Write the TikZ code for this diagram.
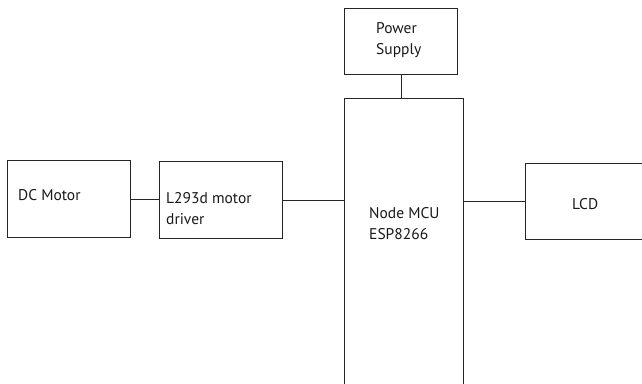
\documentclass[tikz,border=0pt]{standalone}
\usepackage{fontspec}
\setmainfont{PT Sans}
\begin{document}
\begin{tikzpicture}[x=1pt,y=-1pt,
  blk/.style={draw=black!85,line width=1.1pt,inner sep=0pt,anchor=north west},
  txt/.style={inner sep=0pt,anchor=base west,font=\fontsize{15.5}{21.5}\selectfont,text=black!90},
  wire/.style={draw=black!85,line width=1.1pt}]
\useasboundingbox (0,0) rectangle (642,383);
\fill[white] (0,0) rectangle (642,383);
\node[blk,minimum width=123pt,minimum height=77pt] (dc) at (7,160) {};
\node[blk,minimum width=123pt,minimum height=77pt] (drv) at (159,161) {};
\node[blk,minimum width=119pt,minimum height=290pt] (mcu) at (344,98) {};
\node[blk,minimum width=113pt,minimum height=66pt] (ps) at (344,8) {};
\node[blk,minimum width=130pt,minimum height=76pt] (lcd) at (525,163) {};
\node[txt] (tdc) at (18,200) {DC Motor};
\node[txt,align=left,anchor=north west] (tdrv) at (166,192) {L293d motor\\driver};
\node[txt,align=left,anchor=north west] (tps) at (376,22) {Power\\Supply};
\node[txt,align=left,anchor=north west] (tmcu) at (369,207) {Node MCU\\ESP8266};
\node[txt] (tlcd) at (572,209) {LCD};
\draw[wire] (dc.east) -- (dc.east -| drv.west);
\draw[wire] (drv.east) -- (drv.east -| mcu.west);
\draw[wire] (ps.south) -- (ps.south |- mcu.north);
\draw[wire] (mcu.east |- lcd.west) -- (lcd.west);
\end{tikzpicture}
\end{document}
